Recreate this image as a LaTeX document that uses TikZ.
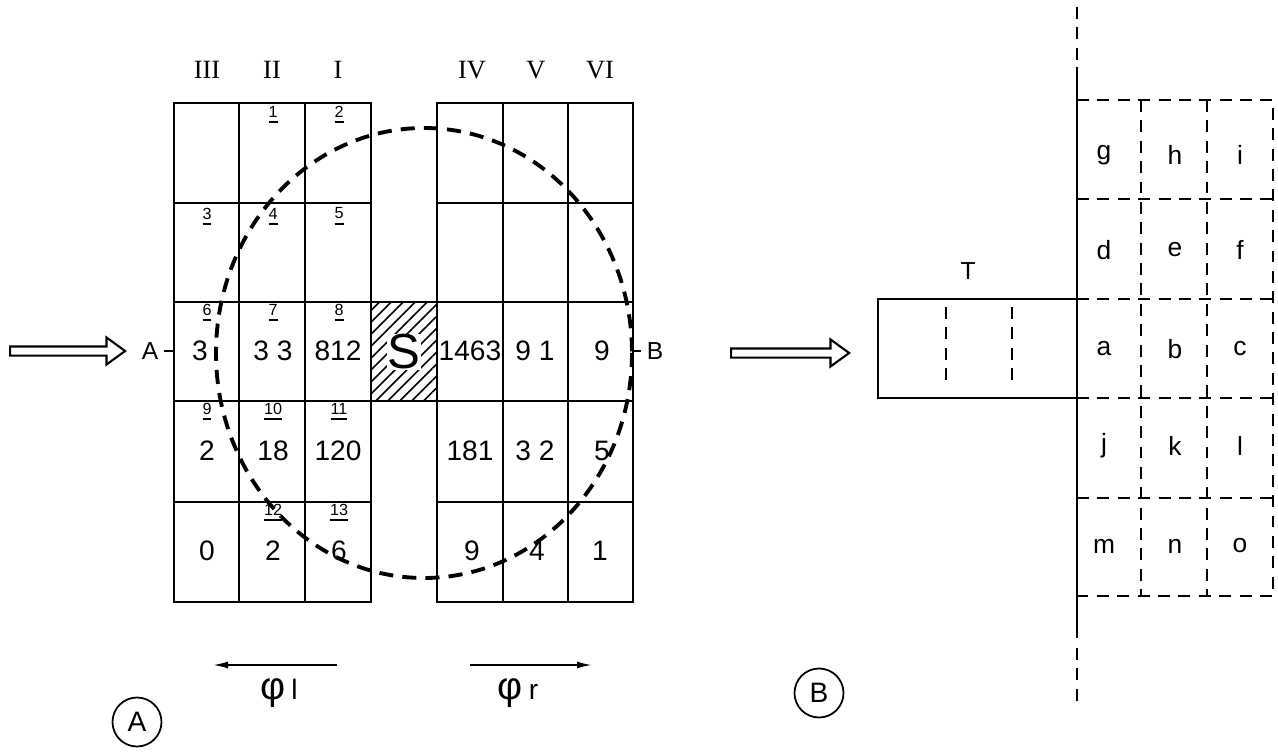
\documentclass[tikz,border=0pt]{standalone}
\usepackage{fontspec}
\setmainfont{Liberation Sans}
\newfontfamily\romanfont{Liberation Serif}
\usepackage{tikz}
\usetikzlibrary{positioning,arrows.meta,shapes.arrows,patterns.meta}

\begin{document}
\begin{tikzpicture}[x=0.1mm, y=-0.1mm,
  cell/.style={line width=0.6pt},
  ring/.style={line width=1.1pt, dash pattern=on 4pt off 2.6pt},
  cut/.style={line width=0.6pt, dash pattern=on 3.4pt off 2.4pt},
  num/.style={font=\fontsize{8}{10}\selectfont, inner sep=1pt},
  idx/.style={font=\fontsize{4.6}{5}\selectfont, inner sep=0.5pt},
  roman/.style={font=\romanfont\fontsize{7.5}{9}\selectfont},
  lett/.style={font=\fontsize{7.5}{9}\selectfont},
  side/.style={font=\fontsize{7}{8}\selectfont, inner sep=1.5pt},
  panel/.style={draw, circle, line width=0.5pt, minimum size=4.9mm, inner sep=0pt, font=\fontsize{8}{9}\selectfont},
  hollow/.style={single arrow, draw, line width=0.6pt, inner xsep=0pt, inner ysep=0.35mm, single arrow head extend=0.9mm, single arrow tip angle=72},
  flow/.style={-{Latex[length=1.5mm,width=0.7mm]}, line width=0.5pt}
]
\useasboundingbox (0,0) rectangle (1278,753);

% left field
\draw[cell] (174,103) rectangle (371,602);
\draw[cell] (239,103) -- (239,602);
\draw[cell] (305,103) -- (305,602);
\draw[cell] (174,203) -- (371,203);
\draw[cell] (174,302) -- (371,302);
\draw[cell] (174,401) -- (371,401);
\draw[cell] (174,502) -- (371,502);

% right field
\draw[cell] (437,103) rectangle (633,602);
\draw[cell] (503,103) -- (503,602);
\draw[cell] (568,103) -- (568,602);
\draw[cell] (437,203) -- (633,203);
\draw[cell] (437,302) -- (633,302);
\draw[cell] (437,401) -- (633,401);
\draw[cell] (437,502) -- (633,502);

% source
\fill[pattern={Lines[angle=45,distance=2.4pt,line width=0.45pt]}] (371,302) rectangle (437,401);
\draw[cell] (371,302) rectangle (437,401);
\node[fill=white, inner sep=0.3pt, font=\fontsize{14}{14}\selectfont] (src) at (404,352) {S};

\coordinate (ctr) at (424,353);
\draw[ring] (ctr) ellipse [x radius=208, y radius=225];

\node[roman] (c3) at (207,70) {III};
\node[roman] (c2) at (272,70) {II};
\node[roman] (c1) at (338,70) {I};
\node[roman] (c4) at (472,70) {IV};
\node[roman] (c5) at (536,70) {V};
\node[roman] (c6) at (600,70) {VI};

\node[idx] (i1) at (273,115) {\underline{1}};
\node[idx] (i2) at (339,115) {\underline{2}};
\node[idx] (i3) at (207,217) {\underline{3}};
\node[idx] (i4) at (273,217) {\underline{4}};
\node[idx] (i5) at (339,217) {\underline{5}};
\node[idx] (i6) at (207,313) {\underline{6}};
\node[idx] (i7) at (273,313) {\underline{7}};
\node[idx] (i8) at (339,313) {\underline{8}};
\node[idx] (i9) at (207,412) {\underline{9}};
\node[idx] (i10) at (273,412) {\underline{10}};
\node[idx] (i11) at (339,412) {\underline{11}};
\node[idx] (i12) at (273,513) {\underline{12}};
\node[idx] (i13) at (339,513) {\underline{13}};

\node[num] (n6) at (200,351) {3};
\node[num] (n7) at (273,351) {3 3};
\node[num] (n8) at (338,351) {812};
\node[num] (n9) at (207,451) {2};
\node[num] (n10) at (273,451) {18};
\node[num] (n11) at (338,451) {120};
\node[num] (n14) at (207,551) {0};
\node[num] (n12) at (273,551) {2};
\node[num] (n13) at (339,551) {6};
\node[num] (r1) at (470,351) {1463};
\node[num] (r2) at (535,351) {9 1};
\node[num] (r3) at (602,351) {9};
\node[num] (r4) at (470,451) {181};
\node[num] (r5) at (535,451) {3 2};
\node[num] (r6) at (602,451) {5};
\node[num] (r7) at (472,551) {9};
\node[num] (r8) at (537,551) {4};
\node[num] (r9) at (600,551) {1};

\node[side] (lblA) at (150,351) {A};
\coordinate (tickA) at (174,351);
\draw[cell] (lblA) -- (tickA);
\node[side] (lblB) at (655,351) {B};
\coordinate (tickB) at (633,351);
\draw[cell] (tickB) -- (lblB);

\node[hollow, minimum height=11.5mm] (inA) at (64.5,351) {};

\coordinate (phil-s) at (337,665);
\coordinate (phil-e) at (213,665);
\draw[flow] (phil-s) -- (phil-e);
\coordinate (phir-s) at (470,665);
\coordinate (phir-e) at (592,665);
\draw[flow] (phir-s) -- (phir-e);
\node (phil) at (279,693) {{\fontsize{11}{12}\selectfont φ}\,{\fontsize{8}{9}\selectfont l}};
\node (phir) at (518,693) {{\fontsize{11}{12}\selectfont φ}\,{\fontsize{8}{9}\selectfont r}};

\node[panel] (pA) at (137,722) {A};

% target side
\node[hollow, minimum height=11.8mm] (inB) at (787,353) {};
\node[panel] (pB) at (819,693) {B};

\draw[cut] (1077,7) -- (1077,67);
\draw[cell] (1077,67) -- (1077,638);
\draw[cut] (1077,648) -- (1077,702);

\draw[cell] (1077,299) -- (878,299) -- (878,398) -- (1077,398);
\draw[cut] (946,307) -- (946,387);
\draw[cut] (1012,307) -- (1012,387);
\node[side] (tgt) at (968,271) {T};

\draw[cut] (1077,100) -- (1273,100) -- (1273,596) -- (1077,596);
\draw[cut] (1077,199) -- (1273,199);
\draw[cut] (1077,299) -- (1273,299);
\draw[cut] (1077,398) -- (1273,398);
\draw[cut] (1077,498) -- (1273,498);
\draw[cut] (1141,100) -- (1141,596);
\draw[cut] (1207,100) -- (1207,596);

\node[lett] (g) at (1104,155) {g};
\node[lett] (h) at (1175,155) {h};
\node[lett] (i) at (1240,155) {i};
\node[lett] (d) at (1104,250) {d};
\node[lett] (e) at (1175,250) {e};
\node[lett] (f) at (1240,250) {f};
\node[lett] (a) at (1104,349) {a};
\node[lett] (b) at (1175,349) {b};
\node[lett] (c) at (1240,349) {c};
\node[lett] (j) at (1104,446) {j};
\node[lett] (k) at (1175,446) {k};
\node[lett] (l) at (1240,446) {l};
\node[lett] (m) at (1104,546) {m};
\node[lett] (n) at (1175,546) {n};
\node[lett] (o) at (1240,546) {o};
\end{tikzpicture}
\end{document}
